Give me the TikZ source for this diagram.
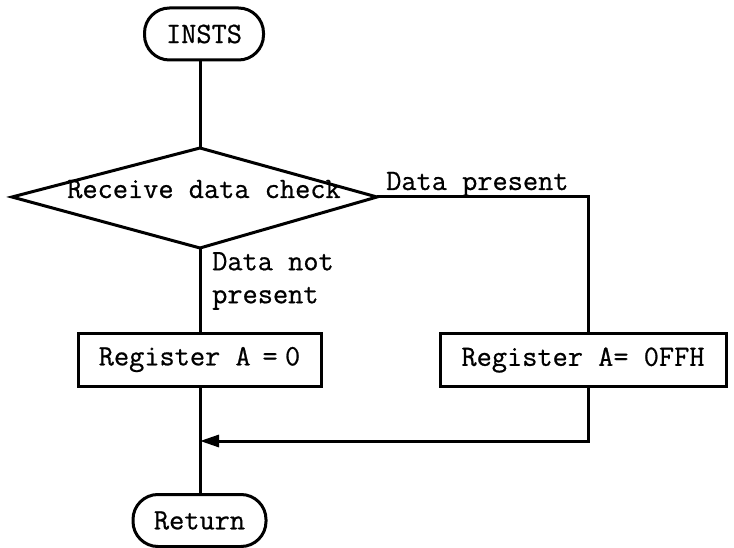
\documentclass[tikz,border=0pt]{standalone}
\usepackage{fontspec}
\newfontfamily\flowfont{Latin Modern Mono}[FakeBold=0.7]
\usetikzlibrary{arrows.meta}
\begin{document}
\begin{tikzpicture}[x=1pt,y=-1pt,
  txt/.style={font=\flowfont\fontsize{29.5}{33}\selectfont},
  flow/.style={line width=3pt, line join=miter},
  term/.style={draw, line width=3pt, rounded corners=25pt, minimum height=52pt, inner sep=0pt, txt},
  proc/.style={draw, line width=3pt, minimum height=53pt, inner sep=0pt, txt},
  lbl/.style={inner sep=0pt, txt, align=left}]
  \useasboundingbox (0,0) rectangle (734,548);

  % terminals
  \node[term, minimum width=119pt] (insts) at (204,34) {INSTS};
  \node[term, minimum width=133pt] (ret) at (199.5,520.5) {Return};

  % decision
  \coordinate (dt) at (200,148);
  \coordinate (dl) at (12,197);
  \coordinate (dr) at (377,197);
  \coordinate (db) at (200,248);
  \draw[flow] (dt) -- (dr) -- (db) -- (dl) -- cycle;
  \node[lbl, anchor=base] (dtext) at (204,198) {Receive data check};

  % processes
  \node[proc, minimum width=243pt] (pa) at (199.5,359.5) {Register A\kern0.4em=\kern0.25em 0};
  \node[proc, minimum width=286pt] (pb) at (583,360) {Register A= 0FFH};

  % branch labels
  \node[lbl, anchor=north west] (nolab) at (212,252) {Data not\\present};
  \node[lbl, anchor=base west] (yeslab) at (386,190) {Data present};

  % connectors
  \coordinate (corner) at (588,197);
  \coordinate (back) at (588,441);
  \coordinate (join) at (200,441);
  \draw[flow] (insts.south -| dt) -- (dt);
  \draw[flow] (db) -- (pa.north -| db);
  \draw[flow] (dr) -- (corner) -- (pb.north -| corner);
  \draw[flow] (pa.south -| db) -- (ret.north -| db);
  \draw[flow, -{Triangle[length=19pt, width=12pt]}] (pb.south -| corner) -- (back) -- (join);
\end{tikzpicture}
\end{document}
